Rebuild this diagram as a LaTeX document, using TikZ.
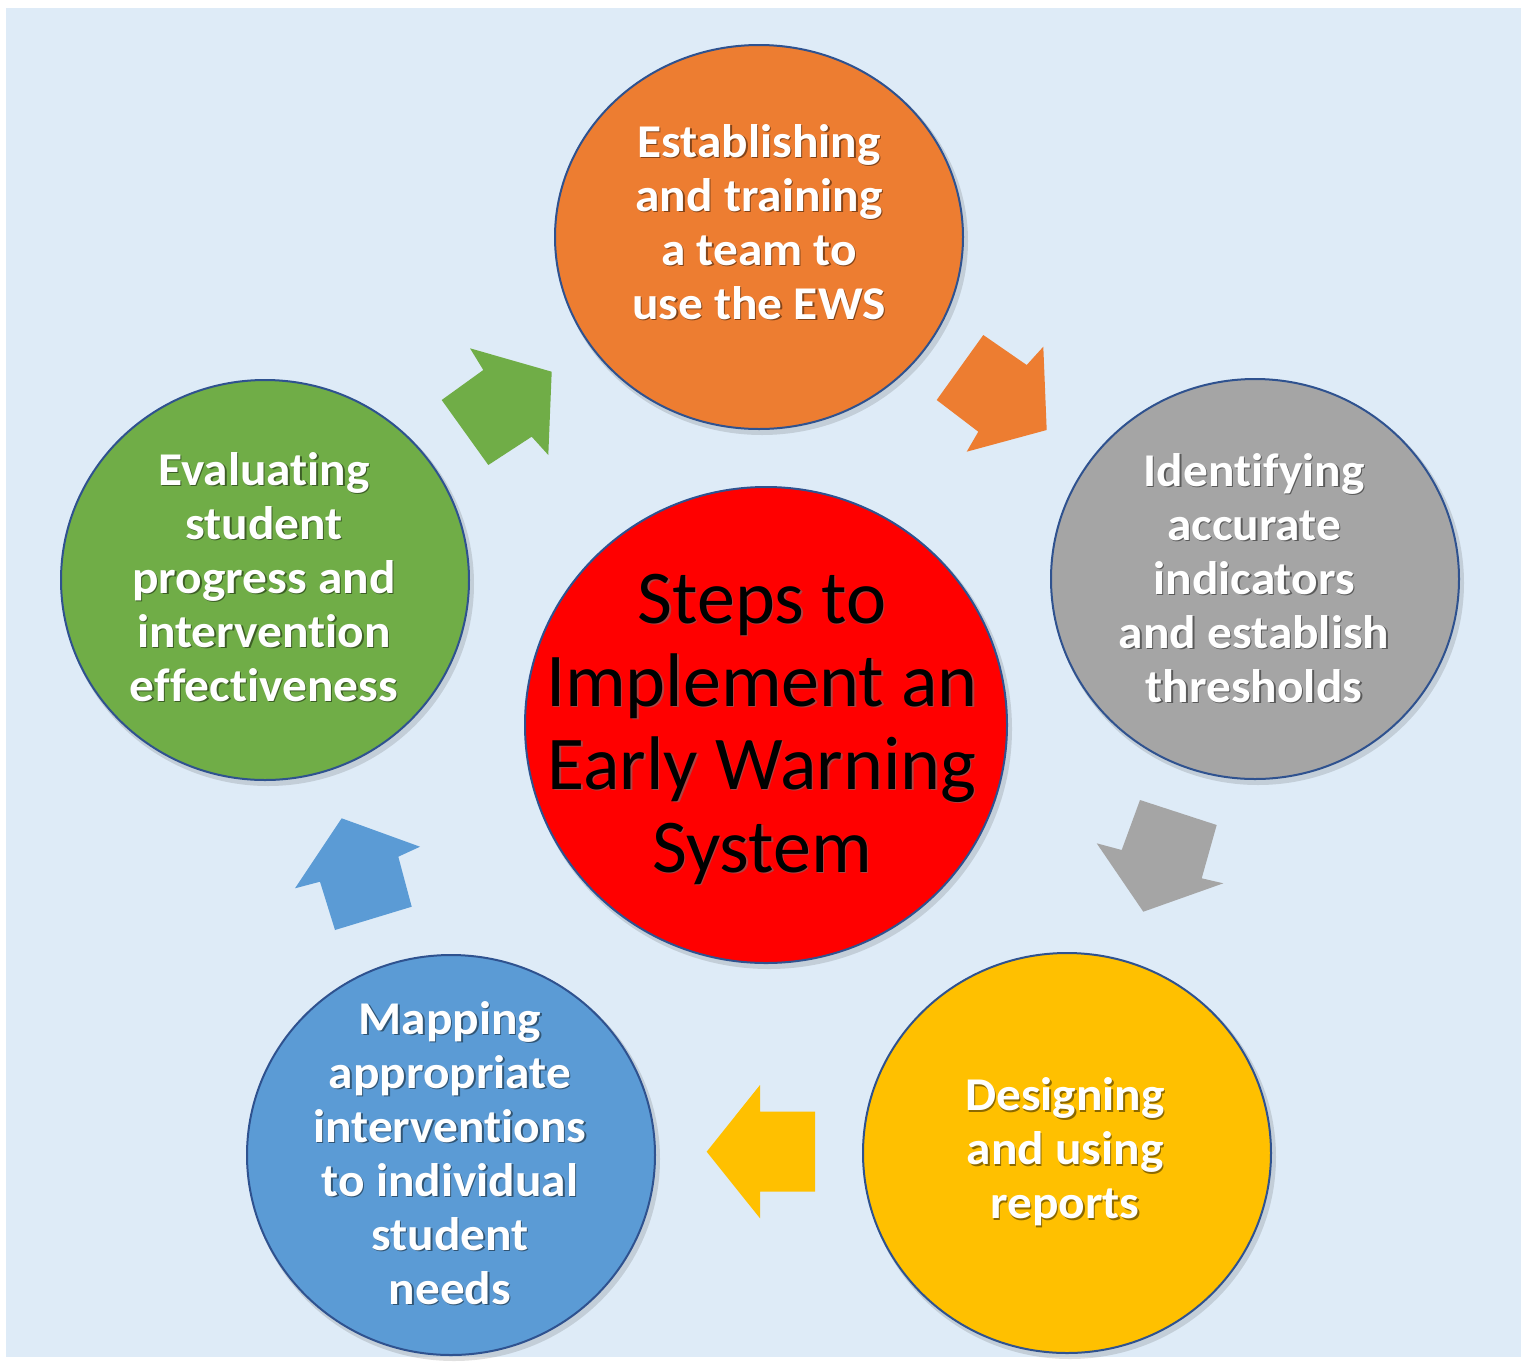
\documentclass[tikz,border=0pt]{standalone}
\usepackage{fontspec}
\setmainfont{Carlito}[Ligatures=NoCommon]
\newfontfamily\stepfont{Carlito}[Ligatures=NoCommon,FakeStretch=1.05]
\usetikzlibrary{calc,shapes.geometric}

\definecolor{bgblue}{HTML}{DEEBF7}
\definecolor{rimblue}{HTML}{2F528F}
\definecolor{cOrange}{HTML}{ED7D31}
\definecolor{cGray}{HTML}{A5A5A5}
\definecolor{cYellow}{HTML}{FFC000}
\definecolor{cBlue}{HTML}{5B9BD5}
\definecolor{cGreen}{HTML}{70AD47}
\definecolor{cRed}{HTML}{FF0000}

\tikzset{
  stepdisc/.style={ellipse, draw=rimblue, line width=1pt, inner sep=0pt,
    minimum width=204pt, minimum height=200pt},
  hubdisc/.style={ellipse, draw=rimblue, line width=1pt, inner sep=0pt,
    minimum width=241pt, minimum height=238pt, fill=cRed},
  disctrace/.style={ellipse, fill=black, opacity=0.12, inner sep=0pt},
  steptxt/.style={align=center, text=white, inner sep=0pt,
    font=\stepfont\bfseries\fontsize{23.5}{27}\selectfont},
  steptxtshade/.style={steptxt, text=black, opacity=0.45},
  hubtxt/.style={align=center, text=black, inner sep=0pt,
    font=\fontsize{38}{41.5}\selectfont},
  hubtxtshade/.style={hubtxt, text=black!55, opacity=0.6}
}

% text with a soft drop shadow
\newcommand\shadedlabel[4]{%
  \node[#1shade] at ($(#2)+(1.4,1.6)$) {#4};
  \node[#1] (#3) at (#2) {#4};}

\begin{document}
\begin{tikzpicture}[x=0.5pt,y=-0.5pt]
\useasboundingbox (0,0) rectangle (1521,1361);
\fill[white] (0,0) rectangle (1521,1361);
\fill[bgblue] (6,8) rectangle (1521,1357);

% disc centres
\coordinate (pO) at (759,237);
\coordinate (pG) at (1255,579);
\coordinate (pY) at (1067,1153);
\coordinate (pB) at (451,1155);
\coordinate (pE) at (265,580);
\coordinate (pH) at (766,725);

% shadows under the discs
\node[disctrace, minimum width=206pt, minimum height=194pt] at ($(pO)+(3,4)$) {};
\foreach \p in {pG,pY,pB,pE}
  \node[disctrace, minimum width=206pt, minimum height=202pt] at ($(\p)+(3,4)$) {};
\node[disctrace, minimum width=243pt, minimum height=240pt] at ($(pH)+(3,4)$) {};

% the five steps and the hub
\node[stepdisc, fill=cOrange, minimum height=192pt] (orange) at (pO) {};
\node[stepdisc, fill=cGray]   (gray)   at (pG) {};
\node[stepdisc, fill=cYellow] (yellow) at (pY) {};
\node[stepdisc, fill=cBlue]   (blue)   at (pB) {};
\node[stepdisc, fill=cGreen]  (green)  at (pE) {};
\node[hubdisc] (hub) at (pH) {};

% block arrows between the steps
\fill[cOrange] (983.3,335) -- (1026.7,365) -- (1043.3,346.7) -- (1046.7,430)
  -- (966.7,451.7) -- (978.3,431.7) -- (936.7,400) -- cycle;
\fill[cGray] (1140,800) -- (1216.7,825) -- (1201.7,878.3) -- (1223.3,883.3)
  -- (1143.3,911.7) -- (1096.7,843.3) -- (1121.7,850) -- cycle;
\fill[cYellow] (706.7,1151.7) -- (760,1085) -- (760,1111.7) -- (815,1111.7)
  -- (815,1191.7) -- (760,1191.7) -- (760,1218.3) -- cycle;
\fill[cBlue] (341.7,818.3) -- (420,846.7) -- (398.3,856.7) -- (411.7,906.7)
  -- (335,930) -- (320,881.7) -- (295,888.3) -- cycle;
\fill[cGreen] (470,348.3) -- (483.3,370) -- (441.7,400) -- (488.3,465)
  -- (531.7,436.7) -- (548.3,455) -- (551.7,371.7) -- cycle;

% labels
\shadedlabel{steptxt}{759,222}{tO}{Establishing\\and training\\a team to\\use the EWS}
\shadedlabel{steptxt}{1254,578}{tG}{Identifying\\accurate\\indicators\\and establish\\thresholds}
\shadedlabel{steptxt}{1065,1152}{tY}{Designing\\and using\\reports}
\shadedlabel{steptxt}{450,1153}{tB}{Mapping\\appropriate\\interventions\\to individual\\student\\needs}
\shadedlabel{steptxt}{264,577}{tE}{Evaluating\\student\\progress and\\intervention\\effectiveness}
\shadedlabel{hubtxt}{762,729}{tH}{Steps to\\Implement an\\Early Warning\\System}
\end{tikzpicture}
\end{document}
